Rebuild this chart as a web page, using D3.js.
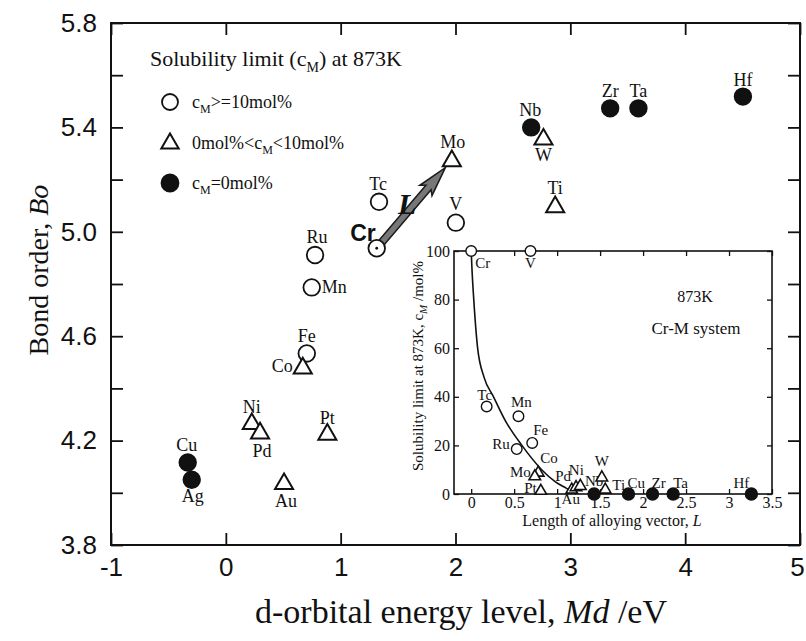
<!DOCTYPE html>
<html>
<head>
<meta charset="utf-8">
<script src="https://cdn.jsdelivr.net/npm/d3@7/dist/d3.min.js"></script>
<style>
  body { margin: 0; background: #fff; }
  text { fill: #111; }
</style>
</head>
<body>
<div id="chart"></div>
<script>
// main plot: Md (eV) and bond order Bo for each alloying element M in Cr
var elements = ["Cr", "Tc", "Mo", "V", "Ru", "Mn", "Fe", "Co", "Ni", "Pd", "Pt", "Au", "Cu", "Ag", "Nb", "W", "Ti", "Zr", "Ta", "Hf"];
var mdValues = [1.314, 1.334, 1.968, 2.003, 0.777, 0.748, 0.705, 0.670, 0.226, 0.298, 0.884, 0.507, -0.332, -0.297, 2.659, 2.766, 2.868, 3.347, 3.593, 4.503];
var boValues = [4.937, 5.115, 5.275, 5.035, 4.911, 4.787, 4.534, 4.481, 4.268, 4.232, 4.227, 4.038, 4.116, 4.050, 5.400, 5.358, 5.099, 5.473, 5.473, 5.518];
var solubility = ["open", "open", "tri", "open", "open", "open", "open", "tri", "tri", "tri", "tri", "tri", "fill", "fill", "fill", "tri", "tri", "fill", "fill", "fill"];

// inset: length of alloying vector L vs solubility limit cM (mol%)
var insetElements = ["Cr", "V", "Tc", "Mn", "Ru", "Fe", "Co", "Mo", "Pt", "Au", "Pd", "Ni", "Nb", "W", "Ti", "Cu", "Zr", "Ta", "Hf"];
var insetL = [0, 0.69, 0.18, 0.55, 0.53, 0.71, 0.78, 0.74, 0.81, 1.17, 1.22, 1.27, 1.43, 1.52, 1.56, 1.83, 2.11, 2.35, 3.26];
var insetC = [100, 100, 36, 32, 18.5, 21, 9, 7.5, 1.5, 2, 3, 3.5, 0, 7, 2, 0, 0, 0, 0];
var insetType = ["open", "open", "open", "open", "open", "open", "tri", "tri", "tri", "tri", "tri", "tri", "fill", "tri", "tri", "fill", "fill", "fill", "fill"];

// fitted curve
var curveL = [0, 0.01, 0.03, 0.075, 0.15, 0.26, 0.4, 0.59, 0.82, 0.98, 1.1, 1.22];
var curveC = [100, 92, 80, 60, 48, 40, 30, 20, 10, 5, 2.5, 0];

var xTicks = [-1, 0, 1, 2, 3, 4, 5];
var yTicks = [3.8, 4.0, 4.2, 4.4, 4.6, 4.8, 5.0, 5.2, 5.4, 5.6, 5.8];
var insetXTicks = [0, 0.5, 1, 1.5, 2, 2.5, 3, 3.5];
var insetYTicks = [0, 20, 40, 60, 80, 100];

var serif = "'Liberation Serif', 'Times New Roman', serif";
var sans = "'Liberation Sans', Arial, sans-serif";

// label offsets [dx, dy, anchor]
var mainLabel = {
  Tc: [-1, -12, "middle"], Mo: [1, -12, "middle"], V: [0, -13, "middle"],
  Ru: [2, -12, "middle"], Mn: [10, 6, "start"], Fe: [0, -11, "middle"],
  Co: [-10, 5, "end"], Ni: [0, -10, "middle"], Pd: [2, 25, "middle"],
  Pt: [0, -10, "middle"], Au: [2, 24, "middle"], Cu: [-1, -12, "middle"],
  Ag: [1, 22, "middle"], Nb: [-1, -11, "middle"], W: [0, 23, "middle"],
  Ti: [0, -12, "middle"], Zr: [0, -11, "middle"], Ta: [0, -11, "middle"],
  Hf: [0, -11, "middle"]
};
var insetLabel = {
  Cr: [4, 17, "start"], V: [0, 17, "middle"], Tc: [-2, -7, "middle"],
  Mn: [3, -9, "middle"], Ru: [-7, 0, "end"], Fe: [1, -8, "start"],
  Co: [2, -9, "start"], Mo: [-4, 1, "end"], Pt: [-4, 3, "end"],
  Au: [-1, 15, "middle"], Pd: [-5, -6, "end"], Ni: [-4, -10, "middle"],
  Nb: [0, -8, "middle"], W: [0, -11, "middle"], Ti: [7, 1, "start"],
  Cu: [-1, -6, "start"], Zr: [-1, -6, "start"], Ta: [0, -6, "start"],
  Hf: [-2, -6, "end"]
};

var width = 806, height = 641;
var svg = d3.select("#chart")
    .append("svg")
    .attr("width", width)
    .attr("height", height)
    .style("font-family", serif);

var x = d3.scaleLinear().domain([-1, 5]).range([111, 800]);
var y = d3.scaleLinear().domain([3.8, 5.8]).range([545, 23]);

// frame + ticks
svg.append("rect")
    .attr("x", x(-1)).attr("y", y(5.8))
    .attr("width", x(5) - x(-1)).attr("height", y(3.8) - y(5.8))
    .attr("fill", "none").attr("stroke", "#111").attr("stroke-width", 2);

function styleAxis(g) {
  g.select(".domain").remove();
  g.selectAll(".tick line").attr("stroke", "#111").attr("stroke-width", 1.8);
}

var xAxisG = svg.append("g")
    .attr("transform", "translate(0," + y(3.8) + ")")
    .call(d3.axisBottom(x).tickValues(xTicks).tickSize(-12).tickSizeOuter(0).tickPadding(13)
      .tickFormat(function(d) { return String(d); }))
    .call(styleAxis);
xAxisG.selectAll("text").attr("font-family", sans).attr("font-size", 26).attr("fill", "#111");
xAxisG.selectAll(".tick").filter(function(d) { return d === 5; }).select("text").attr("x", -3);

svg.append("g")
    .attr("transform", "translate(0," + y(5.8) + ")")
    .call(d3.axisTop(x).tickValues(xTicks).tickSize(-12).tickSizeOuter(0).tickFormat(""))
    .call(styleAxis);

svg.append("g")
    .attr("transform", "translate(" + x(-1) + ",0)")
    .call(d3.axisLeft(y).tickValues(yTicks).tickSize(-12).tickSizeOuter(0).tickPadding(14)
      .tickFormat(function(d, i) { return i % 2 === 0 ? d3.format(".1f")(d) : ""; }))
    .call(styleAxis)
    .selectAll("text").attr("font-family", sans).attr("font-size", 26).attr("fill", "#111");

svg.append("g")
    .attr("transform", "translate(" + x(5) + ",0)")
    .call(d3.axisRight(y).tickValues(yTicks).tickSize(-12).tickSizeOuter(0).tickFormat(""))
    .call(styleAxis);

// axis titles
var xTitle = svg.append("text")
    .attr("x", 461).attr("y", 623)
    .attr("text-anchor", "middle")
    .attr("font-size", 34);
xTitle.append("tspan").text("d-orbital energy level,  ");
xTitle.append("tspan").attr("font-style", "italic").text("Md");
xTitle.append("tspan").text(" /eV");

var yTitle = svg.append("text")
    .attr("transform", "translate(48,270) rotate(-90)")
    .attr("text-anchor", "middle")
    .attr("font-size", 28);
yTitle.append("tspan").text("Bond order, ");
yTitle.append("tspan").attr("font-style", "italic").text("Bo");

// markers
function drawMarker(g, type, cx, cy, r) {
  if (type === "tri") {
    g.append("path")
      .attr("d", d3.symbol().type(d3.symbolTriangle).size(r * r * 2.05)())
      .attr("transform", "translate(" + cx + "," + (cy + r * 0.12) + ")")
      .attr("fill", "#fff").attr("stroke", "#111").attr("stroke-width", r > 7 ? 2 : 1.6);
  } else {
    g.append("circle")
      .attr("cx", cx).attr("cy", cy).attr("r", r)
      .attr("fill", type === "fill" ? "#111" : "#fff")
      .attr("stroke", "#111").attr("stroke-width", r > 7 ? 1.8 : 1.4);
  }
}

var data = elements.map(function(e, i) {
  return { name: e, md: mdValues[i], bo: boValues[i], type: solubility[i] };
});

// alloying vector arrow Cr -> Mo
var cr = data[0], mo = data[2];
(function() {
  var x0 = x(cr.md), y0 = y(cr.bo), x1 = x(mo.md), y1 = y(mo.bo);
  var len = Math.hypot(x1 - x0, y1 - y0), ux = (x1 - x0) / len, uy = (y1 - y0) / len;
  var tip = len - 10, headLen = 26, shaft = 3.4, head = 8;
  var px = -uy, py = ux;
  function pt(a, b) { return [x0 + ux * a + px * b, y0 + uy * a + py * b]; }
  var poly = [pt(0, -shaft), pt(tip - headLen, -shaft), pt(tip - headLen - 4, -head), pt(tip, 0),
              pt(tip - headLen - 4, head), pt(tip - headLen, shaft), pt(0, shaft)];
  svg.append("path")
    .attr("d", d3.line()(poly) + "Z")
    .attr("fill", "#777").attr("stroke", "#1a1a1a").attr("stroke-width", 1.5);
})();

var pts = svg.append("g");
data.forEach(function(d) {
  drawMarker(pts, d.type, x(d.md), y(d.bo), 8.3);
});
pts.append("circle").attr("cx", x(cr.md)).attr("cy", y(cr.bo)).attr("r", 1.4).attr("fill", "#111");

svg.append("g").selectAll("text")
    .data(data.filter(function(d) { return mainLabel[d.name]; }))
    .enter().append("text")
    .attr("x", function(d) { return x(d.md) + mainLabel[d.name][0]; })
    .attr("y", function(d) { return y(d.bo) + mainLabel[d.name][1]; })
    .attr("text-anchor", function(d) { return mainLabel[d.name][2]; })
    .attr("font-size", 18)
    .text(function(d) { return d.name; });

svg.append("text")
    .attr("x", x(cr.md) - 1).attr("y", y(cr.bo) - 7)
    .attr("text-anchor", "end")
    .attr("font-family", sans).attr("font-weight", "bold").attr("font-size", 23)
    .text("Cr");

svg.append("text")
    .attr("x", 398).attr("y", 214)
    .attr("font-style", "italic").attr("font-weight", "bold").attr("font-size", 30)
    .text("L");

// legend text with subscript M
function subText(t, parts, subSize) {
  var shift = 0;
  parts.forEach(function(p) {
    if (p.sub) {
      t.append("tspan").attr("font-size", subSize).attr("dy", subSize * 0.45).text(p.sub);
      shift = subSize * 0.45;
    } else {
      t.append("tspan").attr("dy", -shift).text(p.t);
      shift = 0;
    }
  });
}
var lt = svg.append("text").attr("x", 150).attr("y", 66).attr("font-size", 22);
subText(lt, [{t: "Solubility limit (c"}, {sub: "M"}, {t: ") at 873K"}], 14);

var legendRows = [
  { type: "open", parts: [{t: "c"}, {sub: "M"}, {t: ">=10mol%"}] },
  { type: "tri", parts: [{t: "0mol%<c"}, {sub: "M"}, {t: "<10mol%"}] },
  { type: "fill", parts: [{t: "c"}, {sub: "M"}, {t: "=0mol%"}] }
];
var legendY = d3.scalePoint().domain([0, 1, 2]).range([102, 183]);
legendRows.forEach(function(row, i) {
  drawMarker(svg, row.type, 170, legendY(i), row.type === "fill" ? 8.5 : 8);
  var t = svg.append("text").attr("x", 192).attr("y", legendY(i) + 6).attr("font-size", 18);
  subText(t, row.parts, 12);
});

// inset
var xi = d3.scaleLinear().domain([-0.2, 3.5]).range([454, 772]);
var yi = d3.scaleLinear().domain([0, 100]).range([494, 251]);
var inset = svg.append("g");

inset.append("rect")
    .attr("x", xi(-0.2)).attr("y", yi(100))
    .attr("width", xi(3.5) - xi(-0.2)).attr("height", yi(0) - yi(100))
    .attr("fill", "#fff").attr("stroke", "#111").attr("stroke-width", 1.6);

function styleInset(g) {
  g.select(".domain").remove();
  g.selectAll(".tick line").attr("stroke", "#111").attr("stroke-width", 1.3);
  g.selectAll("text").attr("font-family", serif).attr("font-size", 16).attr("fill", "#111");
}
inset.append("g").attr("transform", "translate(0," + yi(0) + ")")
    .call(d3.axisBottom(xi).tickValues(insetXTicks).tickSize(-5).tickSizeOuter(0).tickPadding(3)
      .tickFormat(function(d) { return String(d); }))
    .call(styleInset);
inset.append("g").attr("transform", "translate(0," + yi(100) + ")")
    .call(d3.axisTop(xi).tickValues(insetXTicks).tickSize(-5).tickSizeOuter(0).tickFormat(""))
    .call(styleInset);
inset.append("g").attr("transform", "translate(" + xi(-0.2) + ",0)")
    .call(d3.axisLeft(yi).tickValues(insetYTicks).tickSize(-5).tickSizeOuter(0).tickPadding(4))
    .call(styleInset);
inset.append("g").attr("transform", "translate(" + xi(3.5) + ",0)")
    .call(d3.axisRight(yi).tickValues(insetYTicks).tickSize(-5).tickSizeOuter(0).tickFormat(""))
    .call(styleInset);

var curvePts = curveL.map(function(l, i) { return [xi(l), yi(curveC[i])]; });
inset.append("path")
    .attr("d", d3.line().curve(d3.curveMonotoneX)(curvePts))
    .attr("fill", "none").attr("stroke", "#111").attr("stroke-width", 1.6);

var insetData = insetElements.map(function(e, i) {
  return { name: e, l: insetL[i], c: insetC[i], type: insetType[i] };
});

inset.append("g").selectAll("text")
    .data(insetData)
    .enter().append("text")
    .attr("x", function(d) { return xi(d.l) + insetLabel[d.name][0]; })
    .attr("y", function(d) { return yi(d.c) + insetLabel[d.name][1]; })
    .attr("text-anchor", function(d) { return insetLabel[d.name][2]; })
    .attr("font-size", 15)
    .text(function(d) { return d.name; });

var ipts = inset.append("g");
insetData.forEach(function(d) {
  drawMarker(ipts, d.type, xi(d.l), yi(d.c), d.type === "fill" ? 6 : 5.3);
});

inset.append("text").attr("x", 695).attr("y", 302).attr("text-anchor", "middle").attr("font-size", 16).text("873K");
inset.append("text").attr("x", 696).attr("y", 334).attr("text-anchor", "middle").attr("font-size", 17).text("Cr-M system");

var ixt = inset.append("text").attr("x", 612).attr("y", 526).attr("text-anchor", "middle").attr("font-size", 16);
ixt.append("tspan").text("Length of alloying vector, ");
ixt.append("tspan").attr("font-style", "italic").text("L");

var iyt = inset.append("text")
    .attr("transform", "translate(423,366) rotate(-90)")
    .attr("text-anchor", "middle").attr("font-size", 15);
iyt.append("tspan").text("Solubility limit at 873K, c");
iyt.append("tspan").attr("font-style", "italic").attr("font-size", 11).attr("dy", 4).text("M");
iyt.append("tspan").attr("dy", -4).text(" /mol%");
</script>
</body>
</html>
